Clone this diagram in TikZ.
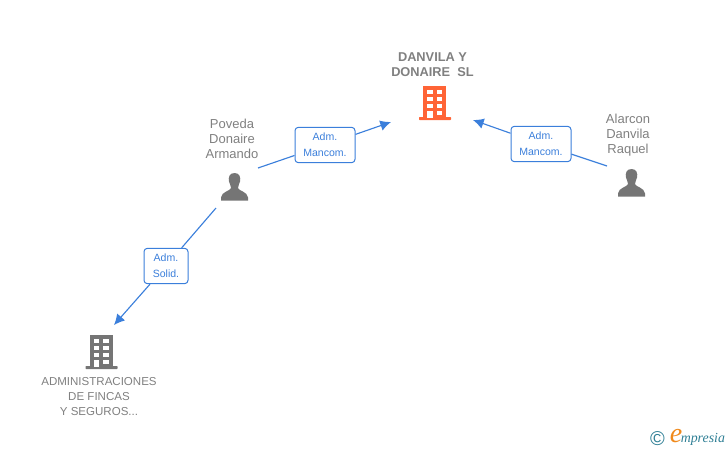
\documentclass[tikz,border=0pt]{standalone}
\usepackage{fontspec}
\setmainfont{Liberation Sans}
\newfontfamily\logofont{Liberation Serif}
\usetikzlibrary{arrows.meta,positioning}
\definecolor{linkblue}{HTML}{3B7FDB}
\definecolor{namegrey}{HTML}{808080}
\definecolor{icongrey}{HTML}{757575}
\definecolor{firmorange}{HTML}{FF6436}
\definecolor{logoteal}{HTML}{2F7F95}
\definecolor{logoorange}{HTML}{F08A1D}
\tikzset{
	person/.style={align=center,text=namegrey,font=\fontsize{9.75}{11.2}\selectfont},
	firm/.style={align=center,text=namegrey,font=\fontsize{8.65}{11.2}\selectfont},
	role/.style={draw=linkblue,rounded corners=2.5pt,fill=white,align=center,text=linkblue,line width=0.75pt,font=\fontsize{7.9}{12}\selectfont,inner sep=0pt},
	link/.style={draw=linkblue,line width=0.85pt},
	linkto/.style={link,-{Latex[length=8pt,width=8pt,inset=3pt]}},
	pics/buildingicon/.style={code={
		\fill[#1] (-4,-34) rectangle (19,-2);
		\fill[#1,rounded corners=0.5pt] (-8,-3) rectangle (24,0);
		\foreach \yy in {-30.5,-23.5,-16.5} {
			\fill[white] (0,\yy) rectangle (5.5,\yy+4.8);
			\fill[white] (9.5,\yy) rectangle (15,\yy+4.8);
		}
		\fill[white] (0,-9.5) rectangle (5.5,-2);
		\fill[white] (9.5,-9.5) rectangle (15,-5);
	}},
	pics/personicon/.style={code={
		\fill[icongrey] (0,-27.5) .. controls (-5,-27.5) and (-6.5,-23) .. (-5.5,-19) .. controls (-5,-16.5) and (-3.5,-15) .. (-3.5,-12.5) .. controls (-4,-9.5) and (-13,-9) .. (-13.5,-3) -- (-13.5,0) -- (13.5,0) -- (13.5,-3) .. controls (13,-9) and (4,-9.5) .. (3.5,-12.5) .. controls (3.5,-15) and (5,-16.5) .. (5.5,-19) .. controls (6.5,-23) and (5,-27.5) .. (0,-27.5) -- cycle;
	}},
}
\begin{document}
\begin{tikzpicture}[x=0.75pt,y=-0.75pt]
	\useasboundingbox (0,0) rectangle (728,450);
	% names
	\node[firm,font=\fontsize{9.6}{11.2}\selectfont\bfseries] (danvila) at (432.5,65) {DANVILA Y\\DONAIRE\ \ SL};
	\node[person] (poveda) at (232,139) {Poveda\\Donaire\\Armando};
	\node[person] (alarcon) at (628,135.5) {Alarcon\\Danvila\\Raquel};
	\node[firm] (admin) at (99,396.5) {ADMINISTRACIONES\\DE FINCAS\\Y SEGUROS...};
	% icons
	\pic at (427,120) {buildingicon=firmorange};
	\pic at (93.5,369) {buildingicon=icongrey};
	\pic at (234.5,200.5) {personicon};
	\pic at (631.5,196.5) {personicon};
	% ends of the links
	\coordinate (povedaout) at (258,168);
	\coordinate (povedadown) at (216,208);
	\coordinate (alarconout) at (607,166);
	\coordinate (danvilaleft) at (391,122);
	\coordinate (danvilaright) at (473,120);
	\coordinate (adminin) at (114,325);
	% roles
	\node[role,minimum width=45pt,minimum height=26.5pt] (mancoml) at (325,145) {Adm.\\Mancom.};
	\node[role,minimum width=45pt,minimum height=26.5pt] (mancomr) at (541,144) {Adm.\\Mancom.};
	\node[role,minimum width=33pt,minimum height=26.5pt] (solid) at (166,266) {Adm.\\Solid.};
	\draw[link] (povedaout) -- (mancoml);
	\draw[linkto] (mancoml) -- (danvilaleft);
	\draw[link] (alarconout) -- (mancomr);
	\draw[linkto] (mancomr) -- (danvilaright);
	\draw[link] (povedadown) -- (solid);
	\draw[linkto] (solid) -- (adminin);
	% logo
	\node[text=logoteal,font=\fontsize{15}{15}\selectfont,inner sep=0pt] (logoc) at (657.5,438.5) {©};
	\node[text=logoorange,font=\fontsize{21}{21}\logofont\itshape,inner sep=0pt] (logoe) at (676,436) {e};
	\node[text=logoteal,font=\fontsize{10.4}{11}\logofont\itshape,inner sep=0pt,anchor=west] (logot) at (680.5,439) {mpresia};
\end{tikzpicture}
\end{document}
